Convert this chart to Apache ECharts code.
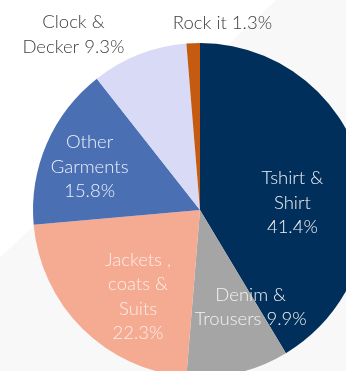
<!DOCTYPE html>
<html>
<head>
<meta charset="utf-8">
<script src="https://cdn.jsdelivr.net/npm/echarts@6/dist/echarts.min.js"></script>
<style>
  html, body { margin: 0; padding: 0; background: #ffffff; }
  #chart { width: 346px; height: 371px; }
</style>
</head>
<body>
<div id="chart"></div>
<script>
// Category share of sales, in percent, clockwise from 12 o'clock
const categories = ['Tshirt &\nShirt', 'Denim &\nTrousers', 'Jackets ,\ncoats &\nSuits', 'Other\nGarments', 'Clock &\nDecker', 'Rock it'];
const shares = [41.4, 9.9, 22.3, 15.8, 9.3, 1.3];
const sliceColors = ['#002f5b', '#a5a5a5', '#f5aa92', '#4a6fb3', '#d8daf6', '#c55a11'];
// how each label text is laid out ("{name} {value}%" joined with a space or line break)
const valueOnNewLine = [true, false, true, true, false, false];
const labelColors = ['#f2f2f2', '#f2f2f2', '#fbeee9', '#eef2fb', '#404040', '#404040'];
const labelOffsets = [[9, 16], [31, 13], [-1, 25], [-31, -9], [-95, -95], [26, -101]];

const chart = echarts.init(document.getElementById('chart'), null, { renderer: 'canvas' });

const data = categories.map((name, i) => ({
  name: name,
  value: shares[i],
  itemStyle: { color: sliceColors[i] },
  label: {
    color: labelColors[i],
    offset: labelOffsets[i],
    formatter: (p) => p.name + (valueOnNewLine[i] ? '\n' : ' ') + p.value.toFixed(1) + '%'
  }
}));

chart.setOption({
  backgroundColor: {
    type: 'linear', x: 0, y: 0, x2: 1, y2: 1,
    colorStops: [
      { offset: 0, color: '#ffffff' },
      { offset: 0.37, color: '#ffffff' },
      { offset: 0.372, color: '#f8f8f8' },
      { offset: 1, color: '#f8f8f8' }
    ]
  },
  animation: false,
  series: [{
    type: 'pie',
    center: [200, 210],
    radius: [0, 167],
    startAngle: 90,
    clockwise: true,
    avoidLabelOverlap: false,
    labelLine: { show: false },
    label: {
      show: true,
      position: 'inside',
      fontFamily: 'Lato',
      fontWeight: 300,
      fontSize: 18.5,
      lineHeight: 24.5,
      align: 'center'
    },
    itemStyle: { borderWidth: 0 },
    emphasis: { disabled: true },
    data: data
  }]
});
</script>
</body>
</html>
